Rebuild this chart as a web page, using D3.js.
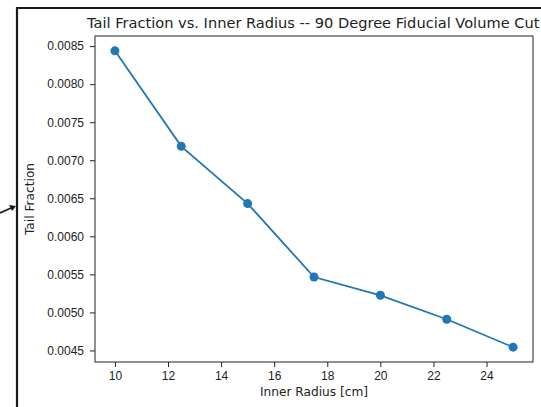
<!DOCTYPE html>
<html>
<head>
<meta charset="utf-8">
<script src="https://cdn.jsdelivr.net/npm/d3@7.9.0/dist/d3.min.js"></script>
<style>
  html, body { margin: 0; padding: 0; background: #fff; }
  svg { display: block; font-family: "DejaVu Sans", sans-serif; }
  .tick text { font-size: 12px; fill: #222; }
  .tick line { stroke: #222; }
  .domain { stroke: #222; }
</style>
</head>
<body>
<div id="chart"></div>
<script>
// ---------- Data ----------
const radius = [10, 12.5, 15, 17.5, 20, 22.5, 25];
const tailFraction = [0.008438, 0.007183, 0.006430, 0.005465, 0.005225, 0.004910, 0.004543];
const xTicks = [10, 12, 14, 16, 18, 20, 22, 24];
const yTicks = [0.0045, 0.0050, 0.0055, 0.0060, 0.0065, 0.0070, 0.0075, 0.0080, 0.0085];

const width = 541, height = 407;
const plot = { left: 95, right: 533, top: 36, bottom: 362 };

const svg = d3.select("#chart")
  .append("svg")
  .attr("width", width)
  .attr("height", height);

// ---------- Outer frame + arrow ----------
svg.append("path")
  .attr("d", `M17,${height + 5} L17,8 L${width + 5},8`)
  .attr("fill", "none")
  .attr("stroke", "#1a1a1a")
  .attr("stroke-width", 2.2);

svg.append("line")
  .attr("x1", 0).attr("y1", 213)
  .attr("x2", 11).attr("y2", 208)
  .attr("stroke", "#1a1a1a")
  .attr("stroke-width", 1.6);
svg.append("path")
  .attr("d", "M16,206 L9,205 L12,211 Z")
  .attr("fill", "#1a1a1a");

// ---------- Scales (matplotlib 5% margins) ----------
const [xmin, xmax] = d3.extent(radius);
const [ymin, ymax] = d3.extent(tailFraction);
const xPad = (xmax - xmin) * 0.05, yPad = (ymax - ymin) * 0.05;

const x = d3.scaleLinear()
  .domain([xmin - xPad, xmax + xPad])
  .range([plot.left, plot.right]);
const y = d3.scaleLinear()
  .domain([ymin - yPad, ymax + yPad])
  .range([plot.bottom, plot.top]);

// ---------- Axes ----------
svg.append("g")
  .attr("transform", `translate(0,${plot.bottom})`)
  .call(d3.axisBottom(x).tickValues(xTicks).tickSize(5).tickPadding(4).tickFormat(d3.format("d")))
  .call(g => g.select(".domain").remove());

svg.append("g")
  .attr("transform", `translate(${plot.left},0)`)
  .call(d3.axisLeft(y).tickValues(yTicks).tickSize(5).tickPadding(6).tickFormat(d3.format(".4f")))
  .call(g => g.select(".domain").remove());

svg.append("rect")
  .attr("x", plot.left).attr("y", plot.top)
  .attr("width", plot.right - plot.left)
  .attr("height", plot.bottom - plot.top)
  .attr("fill", "none")
  .attr("stroke", "#222")
  .attr("stroke-width", 1);

// ---------- Line + markers ----------
const color = "#1f77b4";
const pts = radius.map((r, i) => [r, tailFraction[i]]);

svg.append("path")
  .datum(pts)
  .attr("fill", "none")
  .attr("stroke", color)
  .attr("stroke-width", 1.8)
  .attr("d", d3.line().x(d => x(d[0])).y(d => y(d[1])));

svg.append("g")
  .selectAll("circle")
  .data(pts)
  .join("circle")
  .attr("cx", d => x(d[0]))
  .attr("cy", d => y(d[1]))
  .attr("r", 4.5)
  .attr("fill", color);

// ---------- Labels ----------
svg.append("text")
  .attr("x", 87).attr("y", 28)
  .attr("font-size", 14.6)
  .attr("fill", "#222")
  .text("Tail Fraction vs. Inner Radius -- 90 Degree Fiducial Volume Cut");

svg.append("text")
  .attr("x", (plot.left + plot.right) / 2).attr("y", 396)
  .attr("text-anchor", "middle")
  .attr("font-size", 12.2)
  .attr("fill", "#222")
  .text("Inner Radius [cm]");

svg.append("text")
  .attr("transform", `translate(34,${(plot.top + plot.bottom) / 2}) rotate(-90)`)
  .attr("text-anchor", "middle")
  .attr("font-size", 12.2)
  .attr("fill", "#222")
  .text("Tail Fraction");
</script>
</body>
</html>
